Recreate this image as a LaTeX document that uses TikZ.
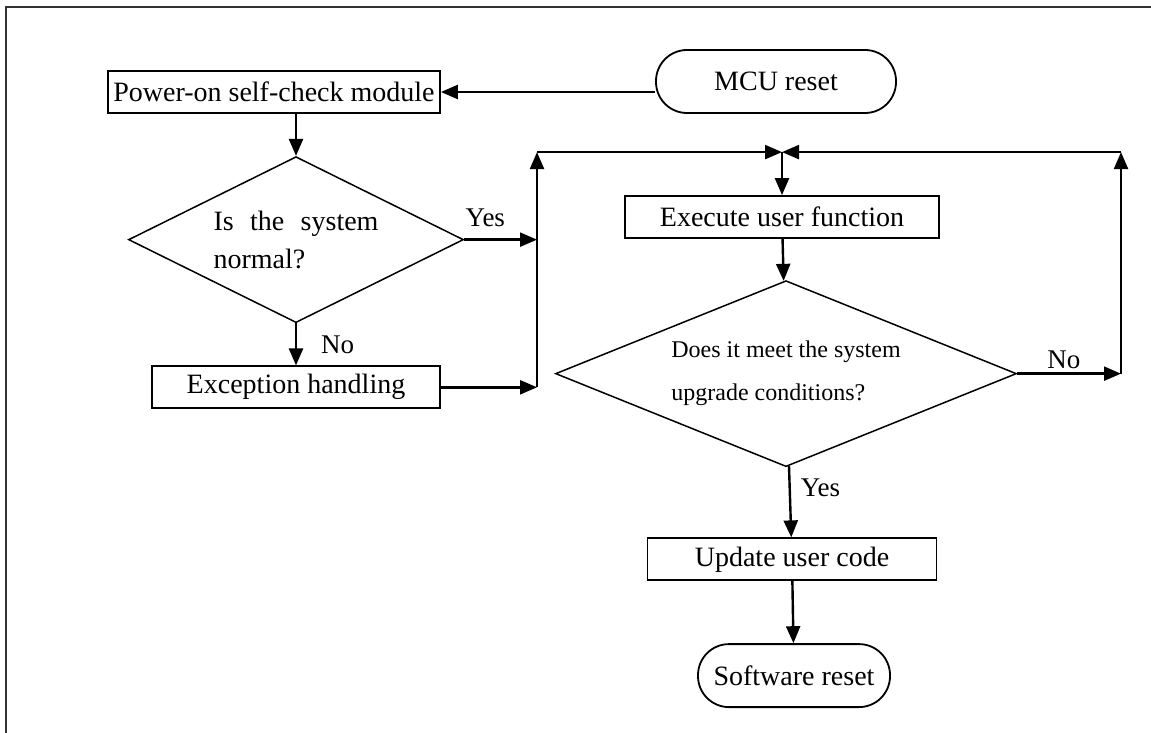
\documentclass[tikz,border=0pt]{standalone}
\usepackage{fontspec}
\setmainfont{Liberation Serif}
\usetikzlibrary{arrows.meta,positioning,shapes.geometric}
\tikzset{
  blk/.style={draw, line width=0.9pt, inner sep=0pt, minimum height=21pt, font=\fontsize{14}{17}\selectfont},
  term/.style={blk, rounded corners=15.5pt, minimum height=31.5pt},
  dec/.style={draw, diamond, line width=0.75pt, inner sep=0pt, align=left},
  lbl/.style={font=\fontsize{13.5}{15}\selectfont, inner sep=2pt},
  arr/.style={-{Triangle[length=8.5pt,width=7pt]}, line width=1.2pt},
  frm/.style={draw=black!80, line width=0.8pt},
}

\begin{document}
\begin{tikzpicture}[node distance=21pt]
    \useasboundingbox (0,0) rectangle (575.5pt,-366.5pt);
    \draw[frm] (3pt,-366.5pt) -- (3pt,-3.5pt) -- (575.5pt,-3.5pt);
    % left column
    \node[blk, minimum width=166pt] at (137pt,-46pt) (pow) {Power-on self-check module};
    \node[term, minimum width=120pt] at (388pt,-40.75pt) (mcu) {MCU reset};
    \node[dec, aspect=2, minimum width=167.5pt, minimum height=83pt, font=\fontsize{14}{19}\selectfont, below=of pow, xshift=11pt] (chk) {\makebox[82.5pt][s]{Is the system}\\normal?};
    \node[blk, minimum width=144pt, below=of chk] (exc) {Exception handling};
    % right column
    \node[blk, minimum width=157pt] at (391pt,-108.5pt) (exe) {Execute user function};
    \node[dec, aspect=2.5, minimum width=230.5pt, minimum height=93pt, font=\fontsize{12}{21.5}\selectfont, below=20.5pt of exe, xshift=2pt] (upg) {Does it meet the system\\upgrade conditions?};
    \node[blk, minimum width=144.5pt, below=35pt of upg, xshift=3pt] (upd) {Update user code};
    \node[term, minimum width=96pt, below=31pt of upd, xshift=1pt] (rst) {Software reset};
    \coordinate[above=21.5pt of exe] (join);
    \coordinate[left=122.5pt of join] (ltop);
    \coordinate[right=169.5pt of join] (rtop);
    % connectors
    \draw[arr] (mcu.west |- pow.east) -- (pow.east);
    \draw[arr] (chk.north |- pow.south) -- (chk.north);
    \draw[arr] (chk) -- node[lbl, right=10pt]{No} (exc);
    \draw[arr] (chk.east) -- node[lbl, above=4pt, pos=0.29]{Yes} (chk.east -| ltop);
    \draw[arr] (exc.east) -- (exc.east -| ltop);
    \draw[arr] (exc.east -| ltop) -- (ltop);
    \draw[arr] (ltop) -- (join);
    \draw[arr] (rtop) -- (join);
    \draw[arr] (join) -- (exe);
    \draw[arr] (exe) -- (upg);
    \draw[arr] (upg.east) -- node[lbl, above, pos=0.45]{No} (upg.east -| rtop);
    \draw[arr] (upg.east -| rtop) -- (rtop);
    \draw[arr] (upg) -- node[lbl, right=3pt, pos=0.31]{Yes} (upd);
    \draw[arr] (upd) -- (rst);
  \end{tikzpicture}
\end{document}
